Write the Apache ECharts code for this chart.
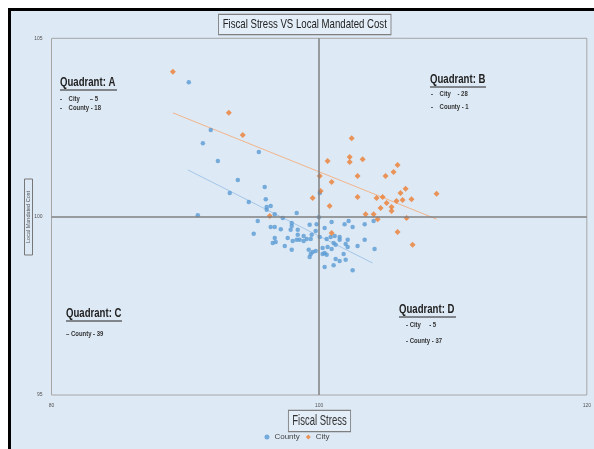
<!DOCTYPE html>
<html>
<head>
<meta charset="utf-8">
<script src="https://cdn.jsdelivr.net/npm/echarts@6/dist/echarts.min.js"></script>
<style>
html,body{margin:0;padding:0;background:#fff;}
#bg1{position:absolute;left:8px;top:8px;width:586px;height:441px;background:#000;}
#bg2{position:absolute;left:11px;top:11px;width:583px;height:438px;background:#dde9f5;}
#chart{position:absolute;left:0;top:0;width:594px;height:449px;}
</style>
</head>
<body>
<div id="bg1"></div><div id="bg2"></div>
<div id="chart"></div>
<script>
// Axis ticks
var xTicks = [80, 100, 120];
var yTicks = [95, 100, 105];

// County (blue) points
var countyX = [90.26,91.90,91.31,95.49,92.43,93.92,95.93,93.32,96.01,94.74,96.38,96.08,96.08,96.68,98.32,90.93,
  100.05,99.98,
  97.28,95.41,96.38,96.68,97.95,97.95,97.87,97.13,95.11,96.68,97.65,98.02,96.53,96.75,97.43,97.95,
  99.29,99.81,99.74,98.32,98.54,98.84,99.07,99.37,99.44,98.40,98.84,99.22,99.51,99.74,99.37,99.29,98.40,
  100.93,101.90,102.20,102.50,103.40,104.07,100.41,100.04,100.56,100.86,101.16,101.08,101.23,101.53,101.53,
  102.13,101.98,102.13,102.87,103.40,104.14,100.26,100.63,100.93,100.26,100.56,100.41,101.83,101.23,101.53,
  101.98,101.08,100.41,102.50];
var countyY = [103.77,102.43,102.06,101.81,101.56,101.03,100.83,100.66,100.49,100.41,100.30,100.27,100.19,100.07,100.10,100.04,
  100.66,99.98,
  99.96,99.88,99.71,99.71,99.82,99.74,99.63,99.65,99.52,99.40,99.40,99.32,99.26,99.29,99.18,99.07,
  99.77,99.79,99.60,99.35,99.35,99.32,99.37,99.37,99.49,99.49,99.46,99.07,99.01,99.04,98.95,98.87,99.63,
  99.85,99.79,99.88,99.71,99.79,99.88,99.68,99.43,99.37,99.43,99.46,99.26,99.21,99.43,99.35,
  99.35,99.23,99.15,99.18,99.35,99.09,99.12,99.15,99.09,98.95,98.93,98.98,98.95,98.81,98.76,
  98.79,98.64,98.59,98.50];

// City (orange) points
var cityX = [89.07,93.25,94.29,99.51,96.31,
  102.43,100.63,102.28,102.28,103.25,105.86,105.56,104.96,102.87,100.04,100.93,100.11,106.46,106.08,108.77,
  102.87,104.29,104.74,105.78,106.23,106.90,105.04,100.78,104.59,105.41,105.41,103.47,104.07,
  104.37,106.53,105.86,106.98,100.93];
var cityY = [104.06,102.91,102.29,100.52,100.02,
  102.20,101.56,101.67,101.53,101.61,101.45,101.25,101.14,101.14,101.14,100.97,100.72,100.78,100.66,100.64,
  100.55,100.52,100.55,100.44,100.47,100.49,100.38,100.30,100.24,100.27,100.16,100.07,100.07,
  99.93,99.96,99.57,99.21,99.54];

// Trend lines (endpoints)
var cityTrendX = [89.07, 108.77];
var cityTrendY = [102.91, 99.93];
var countyTrendX = [90.19, 103.99];
var countyTrendY = [101.31, 98.70];

function pairs(xs, ys){ return xs.map(function(v,i){ return [v, ys[i]]; }); }

var chart = echarts.init(document.getElementById('chart'), null, {renderer:'canvas'});
var sans = '"Liberation Sans", Arial, sans-serif';

function quad(x, y, title, lines, w){
  var els = [{
    type:'text', x:x, y:y, scaleX:0.8, z:10,
    style:{text:title, font:'bold 12px ' + sans, fill:'#222', textVerticalAlign:'middle'}
  },{
    type:'line', z:10, shape:{x1:x, y1:y+7, x2:x+w, y2:y+7}, style:{stroke:'#222', lineWidth:1}
  }];
  lines.forEach(function(l){
    els.push({type:'text', x:l[0], y:l[1], scaleX:0.85, z:10,
      style:{text:l[2], font:'bold 7px ' + sans, fill:'#333', textVerticalAlign:'middle'}});
  });
  return els;
}

var graphics = [].concat(
  [{
    type:'text', x:219, y:15, scaleX:0.74, z:10,
    style:{text:'Fiscal Stress VS Local Mandated Cost', font:'13px ' + sans, fill:'#222',
      padding:[3,5,3,5], borderColor:'#7f7f7f', borderWidth:1.2, backgroundColor:'#e4eef8'}
  },{
    type:'text', x:319.5, y:421, scaleX:0.68, z:10,
    style:{text:'Fiscal Stress', font:'14px ' + sans, fill:'#333', align:'center', verticalAlign:'middle',
      padding:[3,5,3,5], borderColor:'#7f7f7f', borderWidth:1.3, backgroundColor:'#e4eef8'}
  },{
    type:'text', x:28.5, y:217, rotation:Math.PI/2, z:10,
    style:{text:'Local Mandated Cost', font:'5.5px ' + sans, fill:'#555', align:'center', verticalAlign:'middle',
      padding:[1,12,1,12], borderColor:'#777', borderWidth:1}
  }],
  quad(60, 83, 'Quadrant: A', [[60,99,'-    City      \u2013 5'],[60,108,'-    County - 18']], 57),
  quad(430, 80, 'Quadrant: B', [[431,94,'-    City    - 28'],[431,107,'-    County - 1']], 56),
  quad(66, 314, 'Quadrant: C', [[66,334,'\u2013 County - 39']], 56),
  quad(399, 310, 'Quadrant: D', [[406,325,'- City     - 5'],[406,341,'- County - 37']], 57)
);

chart.setOption({
  animation:false,
  backgroundColor:'transparent',
  legend:{
    bottom:3, left:'center',
    itemWidth:5, itemHeight:5, itemGap:6,
    textStyle:{fontSize:8, color:'#444', fontFamily:sans},
    data:[{name:'County', icon:'circle'},{name:'City', icon:'diamond'}]
  },
  grid:{left:51.5, right:6.5, top:38.3, bottom:54, show:true, borderColor:'#a6a6a6', borderWidth:1, containLabel:false},
  xAxis:{
    type:'value', min:xTicks[0], max:xTicks[2], interval:20,
    axisLine:{show:false}, axisTick:{show:false}, splitLine:{show:false},
    axisLabel:{fontSize:5, color:'#555', margin:8}
  },
  yAxis:{
    type:'value', min:yTicks[0], max:yTicks[2], interval:5,
    axisLine:{show:false}, axisTick:{show:false}, splitLine:{show:false},
    axisLabel:{fontSize:5, color:'#555', margin:9}
  },
  graphic:graphics,
  series:[
    {
      name:'County', type:'scatter', symbol:'circle', symbolSize:4.5,
      itemStyle:{color:'#5b9bd5'},
      data:pairs(countyX, countyY), z:3,
      markLine:{
        silent:true, symbol:'none', label:{show:false},
        lineStyle:{color:'#808080', width:1.5, type:'solid'},
        data:[{xAxis:100},{yAxis:100}]
      }
    },
    {
      name:'City', type:'scatter', symbol:'diamond', symbolSize:6,
      itemStyle:{color:'#ed7d31'},
      data:pairs(cityX, cityY), z:3
    },
    {
      name:'CityTrend', type:'line', data:pairs(cityTrendX, cityTrendY), symbol:'none',
      lineStyle:{color:'#f2b48a', width:1}, z:2, silent:true
    },
    {
      name:'CountyTrend', type:'line', data:pairs(countyTrendX, countyTrendY), symbol:'none',
      lineStyle:{color:'#a4c6e8', width:1}, z:2, silent:true
    }
  ]
});
</script>
</body>
</html>
